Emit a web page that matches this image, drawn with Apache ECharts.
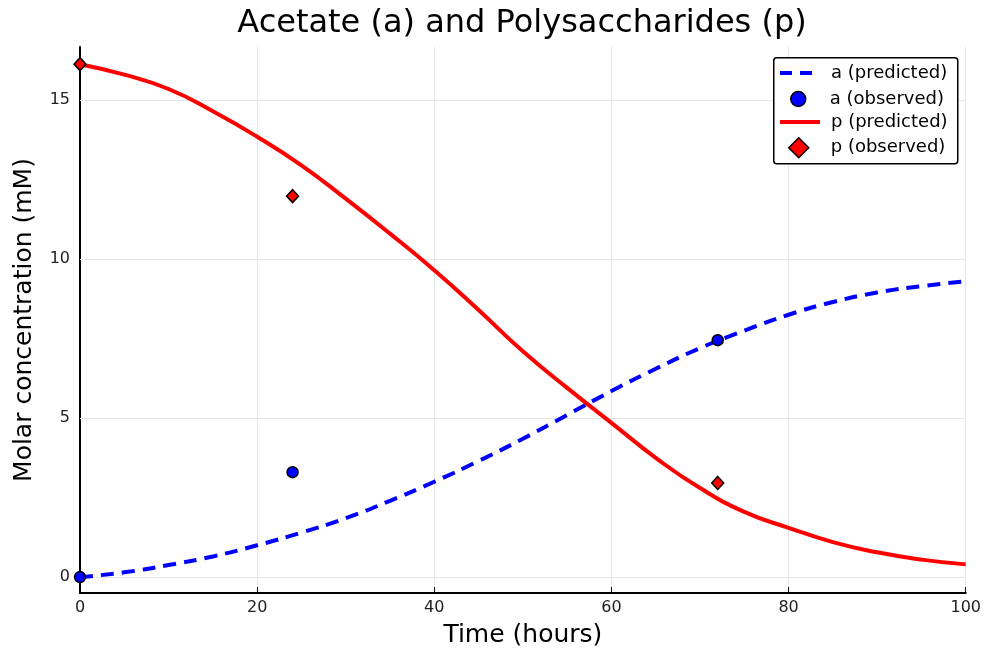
<!DOCTYPE html>
<html><head><meta charset="utf-8">
<script src="https://cdn.jsdelivr.net/npm/echarts@6/dist/echarts.min.js"></script>
<style>html,body{margin:0;padding:0;background:#fff}#c{width:984px;height:654px}</style>
</head><body><div id="c"></div>
<script>
const timePred = [0,5,10,15,20,25,30,35,40,45,50,55,60,65,70,75,80,85,90,95,100];
const aPred = [0,0.15,0.38,0.65,1.0,1.4,1.85,2.4,3.0,3.65,4.35,5.1,5.85,6.55,7.2,7.75,8.25,8.65,8.95,9.15,9.3];
const pPred = [16.13,15.8,15.35,14.65,13.85,12.95,11.9,10.8,9.65,8.4,7.1,5.95,4.85,3.75,2.8,2.05,1.55,1.1,0.78,0.55,0.4];
const timeObs = [0,24,72];
const aObs = [0,3.3,7.45];
const pObs = [16.13,11.98,2.96];
const yTicks = [0,5,10,15];
const xTicks = [0,20,40,60,80,100];
const seriesNames = ['a (predicted)','a (observed)','p (predicted)','p (observed)'];

const zip = (xs, ys) => xs.map((x,i)=>[x, ys[i]]);
const font = 'DejaVu Sans';
const legText = pad => ({fontFamily:font, fontSize:18, color:'#000', padding:[0,0,0,pad]});
const chart = echarts.init(document.getElementById('c'));
chart.setOption({
  animation:false,
  backgroundColor:'#fff',
  title:{text:'Acetate (a) and Polysaccharides (p)', left:517, top:3, textAlign:'center',
    textStyle:{fontFamily:font, fontSize:32, fontWeight:'normal', color:'#000'}},
  graphic:[{type:'rect', left:773, top:57, z:10,
    shape:{width:184, height:106, r:3},
    style:{fill:'#fff', stroke:'#000', lineWidth:1.5}}],
  legend:[
    {left:778, top:64, padding:0, itemWidth:40, itemHeight:16, z:20, textStyle:legText(6),
      data:[{name:seriesNames[0], itemStyle:{opacity:0}, lineStyle:{color:'#0000ff', width:4, type:[12,8]}}]},
    {left:790, top:90, padding:0, itemWidth:15, itemHeight:15, z:20, textStyle:legText(19),
      data:[{name:seriesNames[1], icon:'circle', itemStyle:{color:'#0000ff', borderColor:'#000', borderWidth:1.5}}]},
    {left:778, top:113, padding:0, itemWidth:40, itemHeight:16, z:20, textStyle:legText(6),
      data:[{name:seriesNames[2], itemStyle:{opacity:0}, lineStyle:{color:'#ff0000', width:4, type:'solid'}}]},
    {left:788, top:137, padding:0, itemWidth:20, itemHeight:20, z:20, textStyle:legText(17),
      data:[{name:seriesNames[3], icon:'diamond', itemStyle:{color:'#ff0000', borderColor:'#000', borderWidth:1.5}}]}
  ],
  grid:{left:80, right:18, top:47, bottom:61, containLabel:false},
  xAxis:{type:'value', min:0, max:100, interval:20,
    name:'Time (hours)', nameLocation:'middle', nameGap:30,
    nameTextStyle:{fontFamily:font, fontSize:25, color:'#000'},
    axisLine:{onZero:false, lineStyle:{color:'#000', width:2}},
    axisTick:{inside:true, length:6, lineStyle:{color:'#000'}},
    axisLabel:{fontFamily:font, fontSize:16, color:'#222', margin:7},
    splitLine:{show:true, lineStyle:{color:'#e6e6e6', width:1}}
  },
  yAxis:{type:'value', min:-0.5, max:16.67,
    name:'Molar concentration (mM)', nameLocation:'middle', nameGap:43,
    nameTextStyle:{fontFamily:font, fontSize:25, color:'#000'},
    axisLine:{onZero:false, lineStyle:{color:'#000', width:2}},
    axisTick:{inside:true, length:6, lineStyle:{color:'#000'}, customValues:yTicks},
    axisLabel:{fontFamily:font, fontSize:16, color:'#222', margin:10, customValues:yTicks},
    splitLine:{show:false}
  },
  series:[
    {name:seriesNames[0], type:'line', data:zip(timePred,aPred), smooth:true, showSymbol:false, symbol:'none',
      lineStyle:{color:'#0000ff', width:4, type:[13,8]}, itemStyle:{color:'#0000ff'}, z:3,
      markLine:{silent:true, symbol:'none', label:{show:false},
        lineStyle:{color:'#e6e6e6', width:1, type:'solid'},
        data:yTicks.map(v=>({yAxis:v})), z:1}},
    {name:seriesNames[1], type:'scatter', data:zip(timeObs,aObs), symbol:'circle', symbolSize:11,
      itemStyle:{color:'#0000ff', borderColor:'#000', borderWidth:1.5, opacity:1}, z:5},
    {name:seriesNames[2], type:'line', data:zip(timePred,pPred), smooth:true, showSymbol:false, symbol:'none',
      lineStyle:{color:'#ff0000', width:4}, itemStyle:{color:'#ff0000'}, z:3},
    {name:seriesNames[3], type:'scatter', data:zip(timeObs,pObs), symbol:'diamond', symbolSize:[12,13],
      itemStyle:{color:'#ff0000', borderColor:'#000', borderWidth:1.5, opacity:1}, z:5}
  ]
});
</script></body></html>
